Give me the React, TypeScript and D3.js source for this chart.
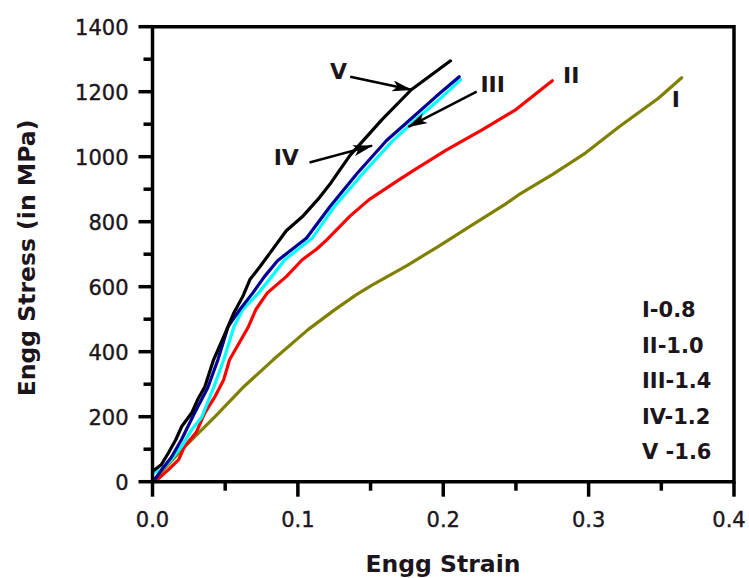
import React from "react";
import * as d3 from "d3";

const xTicks = [0, 0.1, 0.2, 0.3, 0.4];
const xMinor = [0.05, 0.15, 0.25, 0.35];
const yTicks = [0, 200, 400, 600, 800, 1000, 1200, 1400];
const yMinor = [100, 300, 500, 700, 900, 1100, 1300];

const seriesI: [number, number][] = [
  [0, 0], [0.02, 98], [0.043, 200], [0.062, 289], [0.083, 375], [0.107, 468],
  [0.125, 528], [0.14, 575], [0.151, 605], [0.175, 665], [0.197, 725], [0.22, 790],
  [0.243, 855], [0.252, 883], [0.275, 945], [0.298, 1012], [0.321, 1092],
  [0.348, 1180], [0.364, 1243],
];
const seriesII: [number, number][] = [
  [0.003, 5], [0.011, 37], [0.018, 68], [0.022, 108], [0.03, 151], [0.036, 212],
  [0.043, 262], [0.049, 314], [0.053, 375], [0.066, 477], [0.071, 529], [0.079, 581],
  [0.092, 631], [0.103, 683], [0.113, 716], [0.12, 745], [0.136, 818], [0.149, 868],
  [0.17, 930], [0.181, 962], [0.202, 1020], [0.227, 1083], [0.25, 1145], [0.275, 1234],
];
const seriesIII: [number, number][] = [
  [0.001, 28], [0.006, 37], [0.013, 68], [0.02, 108], [0.027, 160], [0.034, 200],
  [0.042, 289], [0.049, 375], [0.056, 477], [0.062, 529], [0.073, 581], [0.082, 631],
  [0.091, 683], [0.11, 750], [0.125, 846], [0.145, 950], [0.165, 1048], [0.18, 1110],
  [0.197, 1175], [0.212, 1237],
];
const seriesIV: [number, number][] = [
  [0.002, 10], [0.006, 35], [0.013, 75], [0.02, 130], [0.029, 212], [0.038, 289],
  [0.045, 375], [0.052, 477], [0.06, 529], [0.069, 581], [0.077, 631], [0.086, 680],
  [0.106, 750], [0.122, 846], [0.141, 950], [0.161, 1050], [0.175, 1105],
  [0.195, 1185], [0.211, 1246],
];
const seriesV: [number, number][] = [
  [0.001, 35], [0.006, 52], [0.011, 89], [0.016, 129], [0.02, 169], [0.027, 212],
  [0.031, 252], [0.036, 292], [0.042, 375], [0.049, 446], [0.056, 520], [0.062, 569],
  [0.067, 622], [0.074, 662], [0.081, 705], [0.092, 772], [0.103, 815], [0.115, 875],
  [0.122, 915], [0.129, 960], [0.136, 1005], [0.142, 1035], [0.158, 1115],
  [0.178, 1206], [0.205, 1295],
];

const seriesList = [
  { name: "I", data: seriesI, color: "#808000" },
  { name: "II", data: seriesII, color: "#ff0000" },
  { name: "III", data: seriesIII, color: "#00ffff" },
  { name: "IV", data: seriesIV, color: "#000099" },
  { name: "V", data: seriesV, color: "#000000" },
];

const legendLines = ["I-0.8", "II-1.0", "III-1.4", "IV-1.2", "V -1.6"];

// curve labels: [text, strain, stress]
const curveLabels: [string, number, number][] = [
  ["V", 0.128, 1240],
  ["III", 0.234, 1199],
  ["II", 0.288, 1228],
  ["I", 0.36, 1153],
  ["IV", 0.092, 973],
];
// arrows: [fromStrain, fromStress, toStrain, toStress]
const arrows: [number, number, number, number][] = [
  [0.136, 1246, 0.178, 1206],
  [0.223, 1200, 0.176, 1092],
  [0.108, 982, 0.151, 1034],
];

const FONT = "'DejaVu Sans', 'Liberation Sans', Arial, sans-serif";
const TXT = "#1c161c";

export default function App() {
  const W = 749, H = 578;
  const x = d3.scaleLinear().domain([0, 0.4]).range([152.5, 734]);
  const y = d3.scaleLinear().domain([0, 1400]).range([481.7, 26.7]);
  const line = d3.line<[number, number]>().x((d) => x(d[0])).y((d) => y(d[1]));
  const x0 = x(0), x1 = x(0.4), y0 = y(0), y1 = y(1400);

  return (
    <svg width={W} height={H} style={{ position: "absolute", left: 0, top: 0, background: "#fff" }}>
      <defs>
        <marker id="ah" markerUnits="userSpaceOnUse" markerWidth="22" markerHeight="12"
          refX="19" refY="5.5" orient="auto">
          <path d="M0,0 L20,5.5 L0,11 L5,5.5 Z" fill="#000" />
        </marker>
      </defs>
      {seriesList.map((s) => (
        <path key={s.name} d={line(s.data) || ""} fill="none" stroke={s.color}
          strokeWidth={3.2} strokeLinejoin="round" strokeLinecap="round" />
      ))}
      {/* frame */}
      <g stroke="#000" strokeWidth={3.5} fill="none">
        <line x1={x0} y1={y1 - 1.75} x2={x0} y2={y0 + 1.75} />
        <line x1={x1} y1={y1 - 1.75} x2={x1} y2={y0 + 1.75} />
        <line x1={x0} y1={y0} x2={x1} y2={y0} />
        <line x1={x0} y1={y1} x2={x1} y2={y1} />
        {yTicks.map((t) => (
          <line key={"ym" + t} x1={x0 - 14} x2={x0} y1={y(t)} y2={y(t)} />
        ))}
        {yMinor.map((t) => (
          <line key={"yn" + t} x1={x0 - 9} x2={x0} y1={y(t)} y2={y(t)} />
        ))}
        {xTicks.map((t) => (
          <line key={"xm" + t} x1={x(t)} x2={x(t)} y1={y0} y2={y0 + 15} />
        ))}
        {xMinor.map((t) => (
          <line key={"xn" + t} x1={x(t)} x2={x(t)} y1={y0} y2={y0 + 9} />
        ))}
      </g>
      <g fontFamily={FONT} fill={TXT} fontSize={21} stroke={TXT} strokeWidth={0.4}>
        {yTicks.map((t) => (
          <text key={"yl" + t} x={x0 - 24} y={y(t) + 8} textAnchor="end">{t}</text>
        ))}
        {xTicks.map((t) => (
          <text key={"xl" + t} x={Math.min(x(t), 729)} y={527} textAnchor="middle">{t.toFixed(1)}</text>
        ))}
      </g>
      <g fontFamily={FONT} fill={TXT} fontWeight="bold" fontSize={23.5}>
        <text x={443} y={572} textAnchor="middle">Engg Strain</text>
        <text transform="translate(35,258) rotate(-90)" textAnchor="middle">Engg Stress (in MPa)</text>
      </g>
      <g fontFamily={FONT} fill={TXT} fontWeight="bold" fontSize={21}>
        {legendLines.map((l, i) => (
          <text key={l} x={642} y={317 + i * 35.5}>{l}</text>
        ))}
      </g>
      <g fontFamily={FONT} fill={TXT} fontWeight="bold" fontSize={22}>
        {curveLabels.map(([t, sx, sy]) => (
          <text key={t} x={x(sx)} y={y(sy)} textAnchor="middle">{t}</text>
        ))}
      </g>
      <g stroke="#000" strokeWidth={2.5}>
        {arrows.map(([a, b, c, d], i) => (
          <line key={i} x1={x(a)} y1={y(b)} x2={x(c)} y2={y(d)} markerEnd="url(#ah)" />
        ))}
      </g>
    </svg>
  );
}
